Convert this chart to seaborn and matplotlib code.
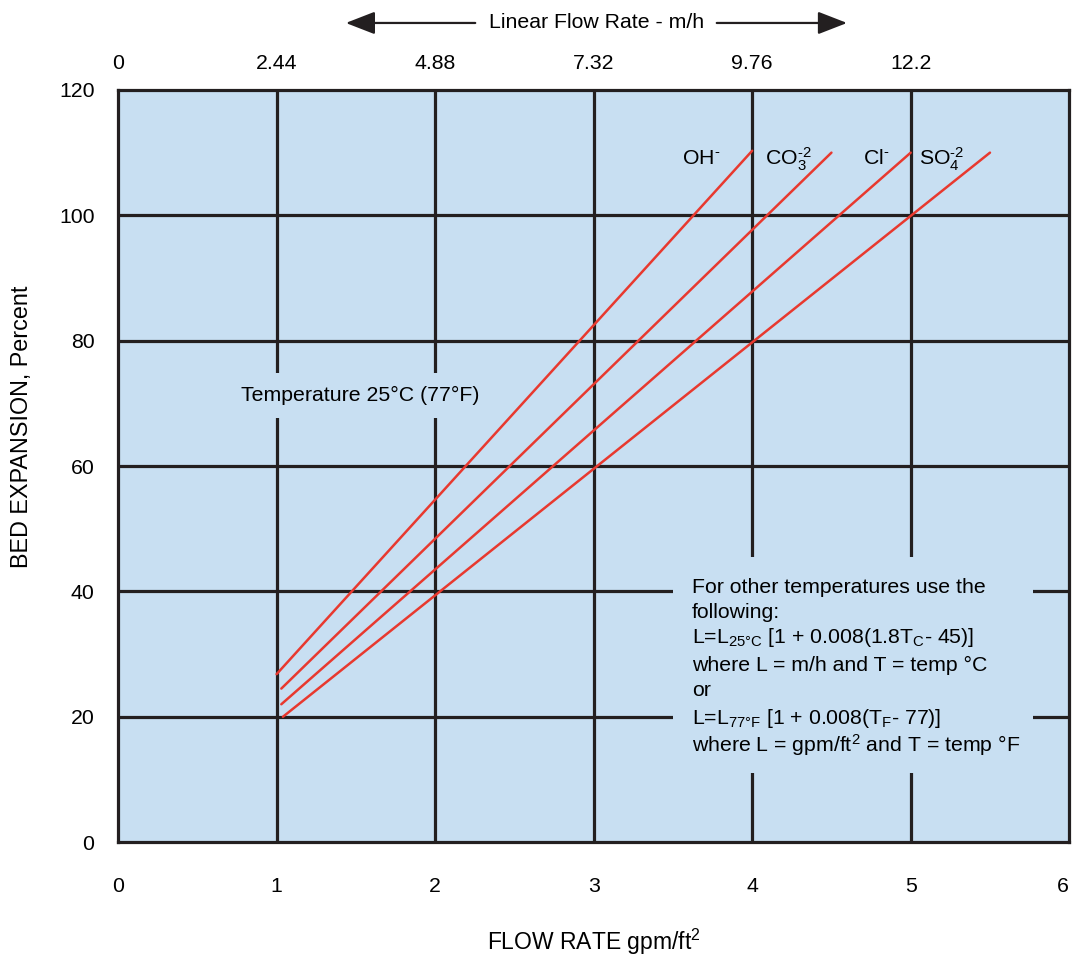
import matplotlib
matplotlib.use("Agg")
import matplotlib.pyplot as plt
import seaborn as sns
import pandas as pd
from matplotlib.patches import Rectangle, FancyArrowPatch

# ---- data ----
ions = ["OH-", "CO3-2", "Cl-", "SO4-2"]
flow_start = [1.00, 1.03, 1.03, 1.04]
flow_end = [4.00, 4.50, 5.00, 5.50]
exp_start = [26.8, 24.5, 22.0, 20.0]
exp_end = [110.3, 110.0, 110.0, 110.0]

ion_labels = [r"OH$^{\text{-}}$", r"CO$_3^{\text{-2}}$", r"Cl$^{\text{-}}$", r"SO$_4^{\text{-2}}$"]
ion_label_x = [3.56, 4.08, 4.70, 5.05]
ion_label_y = [109.0, 109.0, 109.0, 109.0]

bottom_ticks = [0, 1, 2, 3, 4, 5, 6]
top_ticks = [0, 1, 2, 3, 4, 5]
top_tick_labels = ["0", "2.44", "4.88", "7.32", "9.76", "12.2"]
y_ticks = [0, 20, 40, 60, 80, 100, 120]

BG = "#c8dff2"
RED = "#e8392f"
GRID = "#231f20"
FS = 15.3

sns.set_theme(style="white")
plt.rcParams["font.family"] = ["Liberation Sans", "DejaVu Sans"]
plt.rcParams["mathtext.fontset"] = "custom"
plt.rcParams["mathtext.rm"] = "Liberation Sans"
plt.rcParams["mathtext.it"] = "Liberation Sans"
plt.rcParams["mathtext.bf"] = "Liberation Sans"
plt.rcParams["mathtext.default"] = "regular"
plt.rcParams["text.color"] = "black"
plt.rcParams["axes.labelcolor"] = "black"
plt.rcParams["xtick.color"] = "black"
plt.rcParams["ytick.color"] = "black"

rows = []
for ion, x0, x1, y0, y1 in zip(ions, flow_start, flow_end, exp_start, exp_end):
    rows.append({"ion": ion, "flow": x0, "exp": y0})
    rows.append({"ion": ion, "flow": x1, "exp": y1})
df = pd.DataFrame(rows)

fig = plt.figure(figsize=(10.73, 9.57), dpi=100)
ax = fig.add_axes([0.110, 0.120, 0.8865, 0.786])
ax.set_facecolor(BG)

# grid lines
for x in bottom_ticks[1:-1]:
    ax.axvline(x, color=GRID, lw=2.3, zorder=1)
for y in y_ticks[1:-1]:
    ax.axhline(y, color=GRID, lw=2.3, zorder=1)

sns.lineplot(data=df, x="flow", y="exp", hue="ion", units="ion", estimator=None,
             sort=False, palette=[RED] * 4, legend=False, lw=1.8, ax=ax, zorder=4)

ax.set_xlim(0, 6)
ax.set_ylim(0, 120)
ax.set_xticks(bottom_ticks)
ax.set_xticklabels([str(t) for t in bottom_ticks])
ax.set_yticks(y_ticks)
ax.set_yticklabels([str(t) for t in y_ticks])
ax.tick_params(axis="x", length=0, pad=25, labelsize=FS)
ax.tick_params(axis="y", length=0, pad=17, labelsize=FS)
xt = ax.get_xticklabels()
xt[-1].set_horizontalalignment("right")
xt[-1].set_x(6)
for s in ax.spines.values():
    s.set_color(GRID)
    s.set_linewidth(2.3)
    s.set_visible(True)

ax.set_xlabel("FLOW RATE gpm/ft$^2$", fontsize=16.5, labelpad=22)
ax.set_ylabel("BED EXPANSION, Percent", fontsize=16.8)
ax.yaxis.set_label_coords(-0.089, 0.552)

# top axis
ax2 = ax.twiny()
ax2.set_xlim(0, 6)
ax2.set_xticks(top_ticks)
ax2.set_xticklabels(top_tick_labels)
ax2.tick_params(axis="x", length=0, pad=12, labelsize=FS)
for s in ax2.spines.values():
    s.set_visible(False)

# ion labels
for lab, lx, ly in zip(ion_labels, ion_label_x, ion_label_y):
    ax.text(lx, ly, lab, fontsize=FS, ha="left", va="center", zorder=5)

# temperature label
ax.text(1.525, 71.3, "Temperature 25°C (77°F)", fontsize=FS, ha="center", va="center",
        zorder=5, bbox=dict(facecolor=BG, edgecolor="none", boxstyle="square,pad=0.6"))

# formula box
ax.add_patch(Rectangle((3.50, 11.0), 2.27, 34.5, facecolor=BG, edgecolor="none", zorder=3))
formula_lines = [
    "For other temperatures use the",
    "following:",
    "L=L$_{25°C}$ [1 + 0.008(1.8T$_C$- 45)]",
    "where L = m/h and T = temp °C",
    "or",
    "L=L$_{77°F}$ [1 + 0.008(T$_F$- 77)]",
    "where L = gpm/ft$^2$ and T = temp °F",
]
line_y = [40.6, 36.6, 32.6, 28.2, 24.2, 19.8, 15.5]
for t, yy in zip(formula_lines, line_y):
    ax.text(3.62, yy, t, fontsize=FS, ha="left", va="center", zorder=5)

# top title with arrows
fig.text(0.556, 0.976, "Linear Flow Rate - m/h", fontsize=FS, ha="center", va="center")
fig.add_artist(FancyArrowPatch(
    (0.4455, 0.976), (0.3197, 0.976), transform=fig.transFigure,
    arrowstyle="-|>,head_length=9,head_width=3.5", color=GRID, lw=1.6, mutation_scale=2))
fig.add_artist(FancyArrowPatch(
    (0.6654, 0.976), (0.792, 0.976), transform=fig.transFigure,
    arrowstyle="-|>,head_length=9,head_width=3.5", color=GRID, lw=1.6, mutation_scale=2))

fig.savefig("out.png", dpi=100)
